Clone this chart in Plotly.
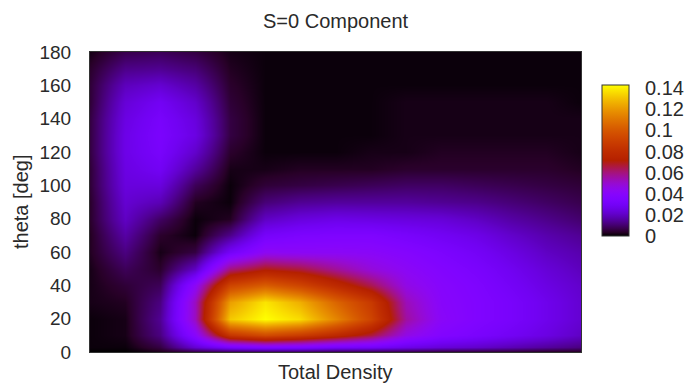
import numpy as np
import plotly.graph_objects as go

# grid of the S=0 component
density = [0, 1, 2, 3, 4, 5, 6, 7, 8, 9, 10, 11, 12, 13, 14]
theta = [0, 3, 10, 20, 30, 40, 50, 60, 70, 80, 90, 100, 110, 120, 130, 140, 150, 160, 170, 180]

# one list per density column, values from theta=0 up to theta=180
col_00 = [0.000, 0.001, 0.001, 0.001, 0.002, 0.002, 0.002, 0.003, 0.003, 0.004, 0.004, 0.005, 0.005, 0.006, 0.006, 0.006, 0.005, 0.005, 0.004, 0.002]
col_01 = [0.000, 0.001, 0.002, 0.002, 0.003, 0.005, 0.008, 0.012, 0.016, 0.020, 0.022, 0.024, 0.025, 0.026, 0.026, 0.025, 0.023, 0.019, 0.013, 0.007]
col_02 = [0.002, 0.006, 0.012, 0.014, 0.012, 0.008, 0.004, 0.002, 0.004, 0.009, 0.018, 0.024, 0.029, 0.032, 0.033, 0.032, 0.029, 0.022, 0.014, 0.008]
col_03 = [0.004, 0.022, 0.040, 0.052, 0.052, 0.042, 0.020, 0.006, 0.001, 0.001, 0.003, 0.008, 0.015, 0.021, 0.025, 0.024, 0.021, 0.016, 0.011, 0.006]
col_04 = [0.005, 0.032, 0.085, 0.132, 0.122, 0.092, 0.060, 0.030, 0.013, 0.003, 0.001, 0.001, 0.002, 0.004, 0.006, 0.006, 0.005, 0.004, 0.003, 0.002]
col_05 = [0.005, 0.036, 0.095, 0.143, 0.138, 0.102, 0.070, 0.043, 0.031, 0.020, 0.011, 0.005, 0.002, 0.001, 0.001, 0.001, 0.001, 0.001, 0.001, 0.001]
col_06 = [0.005, 0.035, 0.088, 0.136, 0.126, 0.092, 0.066, 0.042, 0.034, 0.024, 0.014, 0.006, 0.003, 0.001, 0.001, 0.001, 0.001, 0.001, 0.001, 0.001]
col_07 = [0.004, 0.031, 0.078, 0.115, 0.105, 0.078, 0.057, 0.042, 0.035, 0.026, 0.015, 0.007, 0.003, 0.001, 0.001, 0.001, 0.001, 0.001, 0.001, 0.001]
col_08 = [0.004, 0.030, 0.066, 0.092, 0.087, 0.064, 0.048, 0.041, 0.035, 0.025, 0.015, 0.008, 0.003, 0.002, 0.001, 0.001, 0.001, 0.001, 0.001, 0.001]
col_09 = [0.004, 0.026, 0.046, 0.056, 0.053, 0.046, 0.042, 0.038, 0.032, 0.024, 0.015, 0.009, 0.004, 0.002, 0.002, 0.002, 0.002, 0.001, 0.001, 0.001]
col_10 = [0.003, 0.023, 0.037, 0.041, 0.040, 0.039, 0.037, 0.034, 0.029, 0.023, 0.014, 0.009, 0.004, 0.003, 0.002, 0.002, 0.002, 0.001, 0.001, 0.001]
col_11 = [0.003, 0.021, 0.033, 0.036, 0.036, 0.035, 0.033, 0.030, 0.026, 0.020, 0.013, 0.008, 0.004, 0.003, 0.002, 0.002, 0.002, 0.001, 0.001, 0.001]
col_12 = [0.003, 0.018, 0.029, 0.032, 0.032, 0.030, 0.028, 0.025, 0.021, 0.016, 0.011, 0.007, 0.004, 0.003, 0.002, 0.002, 0.002, 0.001, 0.001, 0.001]
col_13 = [0.002, 0.015, 0.025, 0.027, 0.027, 0.025, 0.023, 0.020, 0.017, 0.013, 0.009, 0.006, 0.004, 0.003, 0.002, 0.002, 0.002, 0.001, 0.001, 0.001]
col_14 = [0.002, 0.012, 0.020, 0.022, 0.022, 0.021, 0.019, 0.017, 0.014, 0.010, 0.007, 0.005, 0.003, 0.002, 0.002, 0.002, 0.001, 0.001, 0.001, 0.001]

columns = [col_00, col_01, col_02, col_03, col_04, col_05, col_06, col_07,
           col_08, col_09, col_10, col_11, col_12, col_13, col_14]
z = [list(row) for row in zip(*columns)]  # rows = theta, columns = density

y_ticks = [0, 20, 40, 60, 80, 100, 120, 140, 160, 180]
cbar_ticks = [0, 0.02, 0.04, 0.06, 0.08, 0.1, 0.12, 0.14]
cbar_labels = ["0", "0.02", "0.04", "0.06", "0.08", "0.1", "0.12", "0.14"]

# gnuplot default palette (rgbformulae 7,5,15)
cs = []
for t in np.linspace(0, 1, 41):
    r = np.sqrt(t)
    g = t ** 3
    b = max(0.0, np.sin(2 * np.pi * t))
    cs.append([float(t), "rgb(%d,%d,%d)" % (round(255 * r), round(255 * g), round(255 * b))])

family = "Liberation Sans, Arial, sans-serif"
tick_font = dict(family=family, size=19, color="#2a2a2a")
label_font = dict(family=family, size=20, color="#2a2a2a")

fig = go.Figure(go.Heatmap(
    x=density, y=theta, z=z,
    zsmooth="best", colorscale=cs, zmin=0, zmax=0.143,
    hoverinfo="skip",
    colorbar=dict(
        thickness=27, lenmode="pixels", len=151,
        x=(602 - 90) / 491, xanchor="left", xpad=0,
        y=(352 - 160.5) / 300, yanchor="middle", ypad=0,
        outlinewidth=1, outlinecolor="#333",
        tickvals=cbar_ticks, ticktext=cbar_labels,
        ticks="outside", ticklen=12, tickcolor="rgba(0,0,0,0)",
        tickfont=label_font,
    ),
))

fig.update_layout(
    width=688, height=383,
    margin=dict(l=90, r=107, t=52, b=31, autoexpand=False),
    paper_bgcolor="white", plot_bgcolor="black",
    font=tick_font,
    xaxis=dict(range=[0, 14], showticklabels=False, ticks="", showgrid=False,
               zeroline=False, showline=True, mirror=True, linecolor="#333", linewidth=1),
    yaxis=dict(range=[0, 180], tickvals=y_ticks, ticks="outside", ticklen=14,
               tickcolor="rgba(0,0,0,0)", showgrid=False, zeroline=False,
               showline=True, mirror=True, linecolor="#333", linewidth=1, tickfont=tick_font),
    annotations=[
        dict(text="S=0 Component", xref="paper", yref="paper", x=0.5, y=(352 - 21) / 300,
             xanchor="center", yanchor="middle", showarrow=False, font=label_font),
        dict(text="Total Density", xref="paper", yref="paper", x=0.5, y=(352 - 372) / 300,
             xanchor="center", yanchor="middle", showarrow=False, font=label_font),
        dict(text="theta [deg]", xref="paper", yref="paper", x=(21 - 90) / 491, y=0.5,
             xanchor="center", yanchor="middle", textangle=-90, showarrow=False, font=label_font),
    ],
)

fig.write_html("out.html", config={"displayModeBar": False},
               post_script="document.body.style.margin='0';document.body.style.overflow='hidden';")
